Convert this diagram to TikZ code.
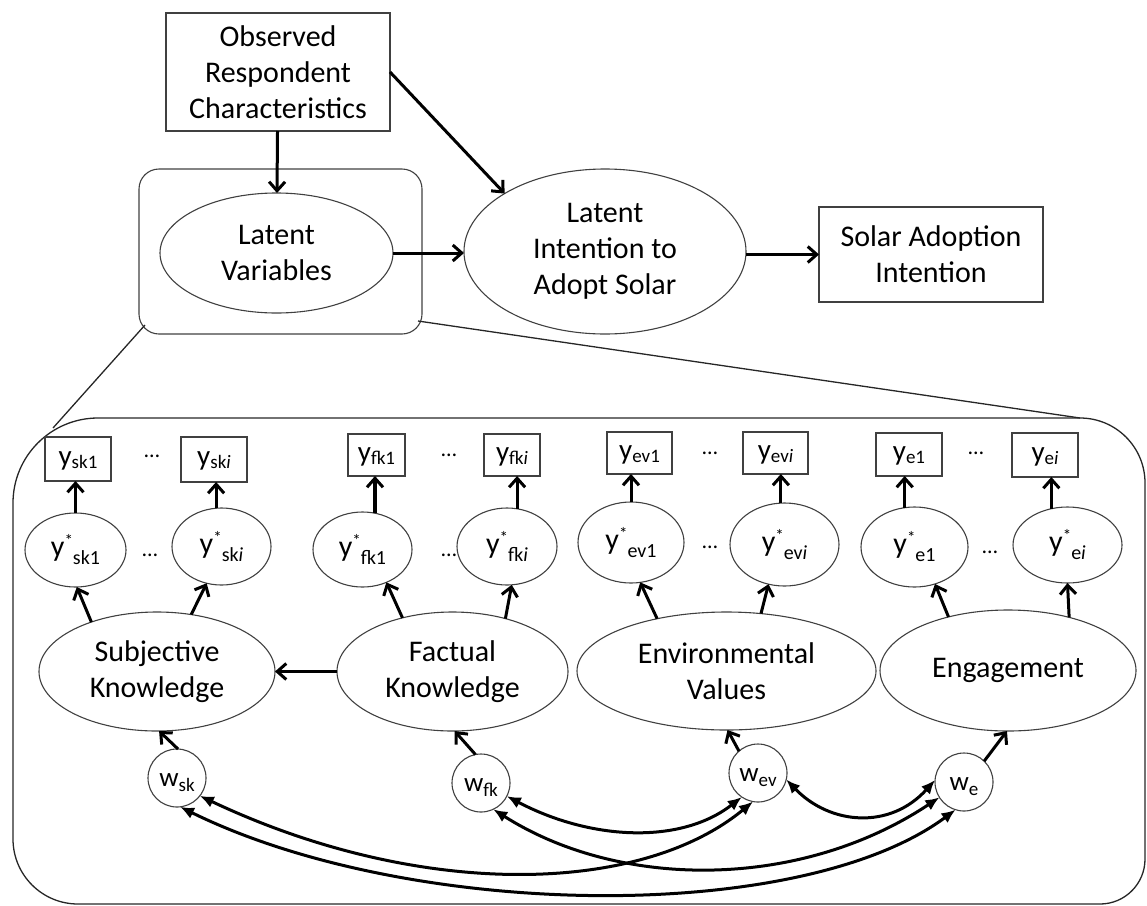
\documentclass[tikz,border=0pt]{standalone}
\usepackage{fontspec}
\setmainfont{Carlito}
\usetikzlibrary{arrows.meta,shapes.geometric}
% subscript / superscript helpers for the indicator labels
\newcommand\ylow[1]{\raisebox{-3pt}{\fontsize{19}{19}\selectfont #1}}
\newcommand\ystarlow[1]{\raisebox{10pt}{\fontsize{17}{17}\selectfont *}\raisebox{-8pt}{\fontsize{20}{20}\selectfont #1}}
\newcommand\wlow[1]{\raisebox{-5pt}{\fontsize{19}{19}\selectfont #1}}

\tikzset{
  outline/.style={draw=black!75, line width=1.1pt, inner sep=0pt, outer sep=0pt, align=center},
  bigtxt/.style={font=\fontsize{30}{36}\selectfont},
  bigbox/.style={outline, bigtxt, rectangle},
  bigell/.style={outline, bigtxt, ellipse},
  ybox/.style={outline, rectangle, font=\fontsize{29}{29}\selectfont, text height=15pt, text depth=3pt},
  ystar/.style={outline, ellipse, font=\fontsize{30}{30}\selectfont},
  wcirc/.style={outline, circle, minimum size=58pt, font=\fontsize{27}{27}\selectfont, text height=17pt, text depth=1pt},
  dotsym/.style={inner sep=0pt, font=\fontsize{22}{22}\selectfont},
  arr/.style={line width=3pt, -{Straight Barb[length=9pt,width=16pt]}},
  cov/.style={line width=3pt, {Latex[length=14pt,width=12pt]}-{Latex[length=14pt,width=12pt]}},
  link/.style={draw=black!85, line width=1.3pt},
  sz/.style 2 args={minimum width=#1pt, minimum height=#2pt},
}

\begin{document}
\begin{tikzpicture}[x=1pt,y=-1pt]
\useasboundingbox (0,0) rectangle (1147,905);

% ---------- structural model ----------
\node[bigbox, sz={224}{118}] (obs) at (278,72) {Observed\\Respondent\\Characteristics};
\node[outline, rounded corners=20pt, sz={283}{165}] (lvbox) at (280.5,251.5) {};
\node[bigell, sz={233}{120}] (lv) at (276.5,253) {Latent\\Variables};
\node[bigell, sz={282}{165}] (li) at (605,251.5) {Latent\\Intention to\\Adopt Solar};
\node[bigbox, sz={224}{95}] (sol) at (931,254.5) {Solar Adoption\\Intention};

\draw[arr] (obs) -- (lv);
\draw[arr] (obs.east) -- (li.150);
\draw[arr] (lv.east) -- (lv.east -| li.west);
\draw[arr] (li.east |- sol.west) -- (sol.west);

% ---------- expanded measurement model ----------
\draw[link] (13,503) arc[start angle=180,end angle=270,radius=85]
  -- (1080,418) arc[start angle=270,end angle=360,radius=65]
  -- (1145,859) arc[start angle=0,end angle=90,radius=45]
  -- (78,904) arc[start angle=90,end angle=180,radius=65] -- cycle;

\coordinate (zoomA) at (145,325);
\coordinate (zoomB) at (418,321);
\coordinate (zoomC) at (53,428);
\coordinate (zoomD) at (1080,418);
\draw[link] (zoomA) -- (zoomC);
\draw[link] (zoomB) -- (zoomD);

% observed indicators
\node[ybox, sz={66}{44}] (ysk1) at (78,459) {y\ylow{sk1}};
\node[ybox, sz={66}{45}] (yski) at (214,459.5) {y\ylow{sk\textit{i}}};
\node[ybox, sz={57}{42}] (yfk1) at (376.5,455) {y\ylow{fk1}};
\node[ybox, sz={56}{42}] (yfki) at (512,455) {y\ylow{fk\textit{i}}};
\node[ybox, sz={65}{42}] (yev1) at (639.5,453) {y\ylow{ev1}};
\node[ybox, sz={65}{42}] (yevi) at (775.5,453) {y\ylow{ev\textit{i}}};
\node[ybox, sz={66}{43}] (ye1) at (909,454.5) {y\ylow{e1}};
\node[ybox, sz={66}{44}] (yei) at (1045,455) {y\ylow{e\textit{i}}};

\node[dotsym] (dA) at (152,456) {…};
\node[dotsym] (dB) at (449,455) {…};
\node[dotsym] (dC) at (710,453) {…};
\node[dotsym] (dD) at (976,453) {…};

% latent responses
\node[ystar, sz={101}{74}] (ysk1s) at (75.5,550) {y\ystarlow{sk1}};
\node[ystar, sz={99}{77}] (yskis) at (221.5,546.5) {y\ystarlow{sk\textit{i}}};
\node[ystar, sz={99}{75}] (yfk1s) at (362.5,549.5) {y\ystarlow{fk1}};
\node[ystar, sz={100}{77}] (yfkis) at (507,546.5) {y\ystarlow{fk\textit{i}}};
\node[ystar, sz={106}{81}] (yev1s) at (631,542.5) {y\ystarlow{ev1}};
\node[ystar, sz={109}{83}] (yevis) at (784.5,544.5) {y\ystarlow{ev\textit{i}}};
\node[ystar, sz={107}{80}] (ye1s) at (914.5,547) {y\ystarlow{e1}};
\node[ystar, sz={109}{76}] (yeis) at (1067.5,545) {y\ystarlow{e\textit{i}}};

\node[dotsym] (dE) at (150,555) {…};
\node[dotsym] (dF) at (449,555) {…};
\node[dotsym] (dG) at (710,547) {…};
\node[dotsym] (dH) at (990,552) {…};

\draw[arr] (ysk1s.90) -- (ysk1s.90 |- ysk1.south);
\draw[arr] (yskis.98) -- (yskis.98 |- yski.south);
\draw[arr] (yfk1s.71) -- (yfk1s.71 |- yfk1.south);
\draw[arr] (yfkis.75) -- (yfkis.75 |- yfki.south);
\draw[arr] (yev1s.90) -- (yev1s.90 |- yev1.south);
\draw[arr] (yevis.95) -- (yevis.95 |- yevi.south);
\draw[arr] (ye1s.104) -- (ye1s.104 |- ye1.south);
\draw[arr] (yeis.114) -- (yeis.114 |- yei.south);

% latent constructs
\node[bigell, sz={236}{119}] (sk) at (157,671.5) {Subjective\\Knowledge};
\node[bigell, sz={231}{119}] (fk) at (452.5,671.5) {Factual\\Knowledge};
\node[bigell, sz={299}{118}] (ev) at (726.5,671) {Environmental\\Values};
\node[bigell, sz={256}{121}] (eng) at (1008,670.5) {Engagement};

\draw[arr] (sk.143) -- (ysk1s.-88);
\draw[arr] (sk.59) -- (yskis.-112);
\draw[arr] (fk.133) -- (yfk1s.-54);
\draw[arr] (fk.45) -- (yfkis.-83);
\draw[arr] (ev.143) -- (yev1s.-77);
\draw[arr] (ev.59) -- (yevis.-112);
\draw[arr] (eng.138) -- (ye1s.-61);
\draw[arr] (eng.41) -- (yeis.-90);

\draw[arr] (fk.west) -- (sk.east);

% error terms
\node[wcirc] (wsk) at (177,778) {w\wlow{sk}};
\node[wcirc] (wfk) at (481,783) {w\wlow{fk}};
\node[wcirc] (wev) at (758,773) {w\wlow{ev}};
\node[wcirc] (we) at (964,782) {w\wlow{e}};

\draw[arr] (wsk.88) -- (sk.-88);
\draw[arr] (wfk.101) -- (fk.-88);
\draw[arr] (wev.131) -- (ev.-89);
\draw[arr] (we.46) -- (eng.-91);

% error covariances
\draw[cov] (wsk.-38) .. controls (420,900) and (640,895) .. (wev.-100);
\draw[cov] (wsk.-84) .. controls (410,920) and (800,925) .. (we.-107);
\draw[cov] (wfk.-27) .. controls (590,840) and (680,845) .. (wev.-124);
\draw[cov] (wfk.-65) .. controls (620,890) and (800,890) .. (we.-148);
\draw[cov] (wev.-13) .. controls (830,825) and (890,830) .. (we.176);
\end{tikzpicture}
\end{document}
